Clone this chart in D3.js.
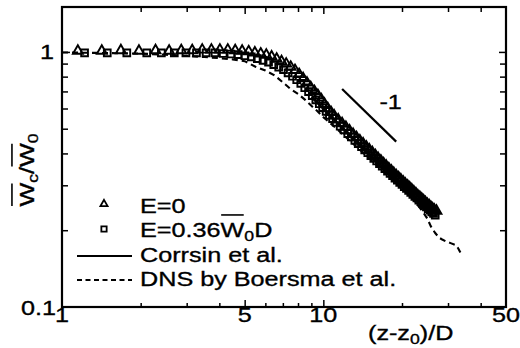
<!DOCTYPE html>
<html>
<head>
<meta charset="utf-8">
<script src="https://cdn.jsdelivr.net/npm/d3@7"></script>
<style>
  body { margin: 0; background: #fff; }
  svg { display: block; }
  text { font-family: "Liberation Sans", Arial, Helvetica, sans-serif; fill: #000; stroke: #000; stroke-width: 0.35px; }
</style>
</head>
<body>
<svg id="chart" width="520" height="348"></svg>
<script>
// Centreline velocity decay of a round jet, W_c/W_0 against (z - z0)/D

// E = 0 (triangles)
const triX = [1.15,1.42,1.68,1.97,2.28,2.57,2.86,3.15,3.44,3.73,4.02,4.31,4.6,4.89,5.18,5.47,5.76,6.05,6.34,6.63,6.92,7.21,7.5,7.79,8.08,8.37,8.66,8.95,9.24,9.53,9.82,10.1,10.4,10.7,
  11.0,11.4,11.8,12.2,12.6,13.0,13.4,13.8,14.2,14.6,15.0,15.4,15.8,16.2,16.6,17.0,17.4,17.8,18.2,18.6,19.0,19.4,19.8,20.2,20.6,21.0,21.4,21.8,22.2,22.6,23.0,23.4,23.8,24.2,24.6,25.0,25.4,25.8,26.2,26.6,27.1];
const triY = [1.00,1.00,1.005,1.00,1.005,1.00,1.005,1.005,1.01,1.01,1.01,1.01,1.005,1.00,0.995,0.985,0.975,0.965,0.95,0.93,0.91,0.89,0.865,0.84,0.81,0.78,0.75,0.72,0.695,0.67,0.645,0.62,0.595,0.575,
  0.558,0.538,0.52,0.503,0.487,0.472,0.458,0.445,0.433,0.421,0.41,0.40,0.39,0.38,0.371,0.362,0.354,0.346,0.339,0.332,0.325,0.319,0.313,0.307,0.301,0.296,0.291,0.286,0.281,0.276,0.271,0.267,0.263,0.259,0.255,0.251,0.248,0.244,0.241,0.238,0.236];

// E = 0.36 W0 D (squares)
const sqX = [1.22,1.49,1.77,2.11,2.4,2.69,2.98,3.27,3.56,3.85,4.14,4.43,4.72,5.01,5.3,5.59,5.88,6.17,6.46,6.75,7.04,7.33,7.62,7.91,8.2,8.49,8.78,9.07,9.36,9.65,9.94,10.25,10.55,10.85,
  11.2,11.6,12.0,12.4,12.8,13.2,13.6,14.0,14.4,14.8,15.2,15.6,16.0,16.4,16.8,17.2,17.6,18.0,18.4,18.8,19.2,19.6,20.0,20.4,20.8,21.2,21.6,22.0,22.4,22.8,23.2,23.6,24.0,24.4,24.8,25.2,25.6,26.0,26.4,26.8];
const sqY = [1.0,1.0,1.0,1.0,1.0,1.0,1.0,1.0,1.0,1.0,0.995,0.99,0.985,0.975,0.965,0.95,0.935,0.92,0.90,0.88,0.86,0.835,0.81,0.785,0.76,0.73,0.705,0.68,0.655,0.632,0.61,0.59,0.57,0.553,
  0.535,0.516,0.499,0.483,0.468,0.454,0.441,0.429,0.417,0.406,0.396,0.386,0.377,0.368,0.36,0.352,0.344,0.337,0.33,0.323,0.317,0.311,0.305,0.299,0.294,0.289,0.284,0.279,0.274,0.27,0.265,0.261,0.257,0.253,0.249,0.245,0.242,0.238,0.235,0.231];

// Corrsin et al. (solid)
const corrsinX = [9.0, 26.5];
const corrsinY = [0.665, 0.226];

// DNS by Boersma et al. (dashed)
const dnsX = [1,1.5,2,2.5,3,3.5,4,4.5,5,5.5,6,6.5,7,7.5,8,8.5,9,9.5,10,11,12,13,14,15,16,17,18,19,20,21,22,23,24,25,25.8,26.8,27.7,28.5,29.4,30.7,32.1,32.8,33.5];
const dnsY = [0.995,0.99,0.985,0.975,0.965,0.955,0.945,0.935,0.92,0.875,0.845,0.81,0.76,0.715,0.685,0.65,0.615,0.585,0.555,0.51,0.47,0.437,0.408,0.383,0.36,0.34,0.322,0.306,0.292,0.279,0.267,0.25,0.237,0.222,0.207,0.195,0.187,0.184,0.181,0.178,0.175,0.17,0.163];

// slope -1 guide
const slopeX = [11.8, 19.0];
const slopeY = [0.716, 0.445];

// ticks
const xMajor = [1, 5, 10, 50];
const xMinor = [2, 3, 4, 6, 7, 8, 9, 20, 30, 40];
const yMajor = [0.1, 1];
const yMinor = [0.2, 0.3, 0.4, 0.5, 0.6, 0.7, 0.8, 0.9];

const FS = 21, SX = 1.2;

const svg = d3.select("#chart");
const L = 62, R = 506, T = 7, B = 307;
const x = d3.scaleLog().domain([1, 50]).range([L, R]);
const y = d3.scaleLog().domain([0.1, 1.5]).range([B, T]);

// text with optional subscripts and overbars
function richText(parent, tx, ty, parts, anchor, rot) {
  const g = parent.append("g")
    .attr("transform", `translate(${tx},${ty})${rot ? ` rotate(${rot})` : ""} scale(${SX},1)`);
  const t = g.append("text").attr("font-size", FS).attr("text-anchor", anchor || "start");
  let shift = 0, idx = 0;
  const bars = [];
  parts.forEach(p => {
    const ts = t.append("tspan").text(p.t);
    if (p.sub) { ts.attr("font-size", FS * 0.7).attr("dy", 4 - shift); shift = 4; }
    else if (shift) { ts.attr("dy", -shift); shift = 0; }
    if (p.bar) bars.push([idx, p.t.length]);
    idx += p.t.length;
  });
  const n = t.node();
  const total = n.getComputedTextLength();
  const x0 = anchor === "middle" ? -total / 2 : anchor === "end" ? -total : 0;
  bars.forEach(([a, len]) => {
    const s = x0 + (a > 0 ? n.getSubStringLength(0, a) : 0);
    const w = n.getSubStringLength(a, len);
    g.append("line")
      .attr("x1", s + 0.5).attr("x2", s + w - 0.5)
      .attr("y1", -FS * 1.05).attr("y2", -FS * 1.05)
      .attr("stroke", "#000").attr("stroke-width", 1.6);
  });
  return g;
}

// ticks pointing into the plot on all four sides
function tickSet(gen, tr, vals, size) {
  svg.append("g").attr("transform", tr)
    .call(gen.tickValues(vals).tickSize(size).tickFormat(""))
    .call(g => g.select(".domain").remove())
    .call(g => g.selectAll("line").attr("stroke", "#000").attr("stroke-width", 1.5));
}
tickSet(d3.axisBottom(x), `translate(0,${B})`, xMinor, -4);
tickSet(d3.axisBottom(x), `translate(0,${B})`, [5, 10], -7);
tickSet(d3.axisTop(x), `translate(0,${T})`, xMinor, -5);
tickSet(d3.axisTop(x), `translate(0,${T})`, [5, 10], -7);
tickSet(d3.axisLeft(y), `translate(${L},0)`, yMinor, -6);
tickSet(d3.axisLeft(y), `translate(${L},0)`, [1], -8);
tickSet(d3.axisRight(y), `translate(${R},0)`, yMinor, -6);
tickSet(d3.axisRight(y), `translate(${R},0)`, [1], -7);

// curves
const line = d3.line().x(d => x(d[0])).y(d => y(d[1]));
const plot = svg.append("g");
plot.append("path").datum(dnsX.map((v, i) => [v, dnsY[i]]))
  .attr("d", line).attr("fill", "none").attr("stroke", "#000")
  .attr("stroke-width", 2.1).attr("stroke-dasharray", "6,4");
plot.append("path").datum(corrsinX.map((v, i) => [v, corrsinY[i]]))
  .attr("d", line).attr("fill", "none").attr("stroke", "#000").attr("stroke-width", 2.2);

// markers
const tri = d3.symbol().type(d3.symbolTriangle).size(42);
const sq = d3.symbol().type(d3.symbolSquare).size(46);
plot.append("g").selectAll("path").data(sqX.map((v, i) => [v, sqY[i]])).join("path")
  .attr("d", sq).attr("transform", d => `translate(${x(d[0])},${y(d[1]) + 1})`)
  .attr("fill", "none").attr("stroke", "#000").attr("stroke-width", 1.9);
plot.append("g").selectAll("path").data(triX.map((v, i) => [v, triY[i]])).join("path")
  .attr("d", tri).attr("transform", d => `translate(${x(d[0])},${y(d[1]) - 1})`)
  .attr("fill", "none").attr("stroke", "#000").attr("stroke-width", 1.9);

// slope guide and its label
plot.append("path").datum(slopeX.map((v, i) => [v, slopeY[i]]))
  .attr("d", line).attr("stroke", "#000").attr("stroke-width", 2.2);
richText(svg, x(16.4), y(0.6), [{ t: "-1" }], "start");

// frame
svg.append("rect").attr("x", L).attr("y", T).attr("width", R - L).attr("height", B - T)
  .attr("fill", "none").attr("stroke", "#000").attr("stroke-width", 2.2);

// tick labels
xMajor.forEach(v => richText(svg, x(v), B + 15, [{ t: String(v) }], "middle"));
yMajor.forEach(v => richText(svg, v === 1 ? L - 8 : L - 6, y(v) + 7.5, [{ t: String(v) }], "end"));

// axis titles
richText(svg, 368, 340, [{ t: "(z-z" }, { t: "0", sub: true }, { t: ")/D" }], "start");
richText(svg, 34, 170, [{ t: "W", bar: true }, { t: "c", sub: true }, { t: "/" }, { t: "W", bar: true }, { t: "0", sub: true }], "middle", -90);

// legend
const leg = svg.append("g");
leg.append("path").attr("d", d3.symbol().type(d3.symbolTriangle).size(22))
  .attr("transform", "translate(104,204)").attr("fill", "none").attr("stroke", "#000").attr("stroke-width", 1.8);
leg.append("path").attr("d", d3.symbol().type(d3.symbolSquare).size(28))
  .attr("transform", "translate(104,229)").attr("fill", "none").attr("stroke", "#000").attr("stroke-width", 1.8);
leg.append("line").attr("x1", 77).attr("x2", 132).attr("y1", 256).attr("y2", 256)
  .attr("stroke", "#000").attr("stroke-width", 2.2);
leg.append("line").attr("x1", 77).attr("x2", 132).attr("y1", 280).attr("y2", 280)
  .attr("stroke", "#000").attr("stroke-width", 1.8).attr("stroke-dasharray", "5,3.5");
richText(leg, 140, 213, [{ t: "E=0" }]);
richText(leg, 140, 237, [{ t: "E=0.36" }, { t: "W", bar: true }, { t: "0", sub: true }, { t: "D" }]);
richText(leg, 140, 262, [{ t: "Corrsin et al." }]);
richText(leg, 140, 286, [{ t: "DNS by Boersma et al." }]);
</script>
</body>
</html>
